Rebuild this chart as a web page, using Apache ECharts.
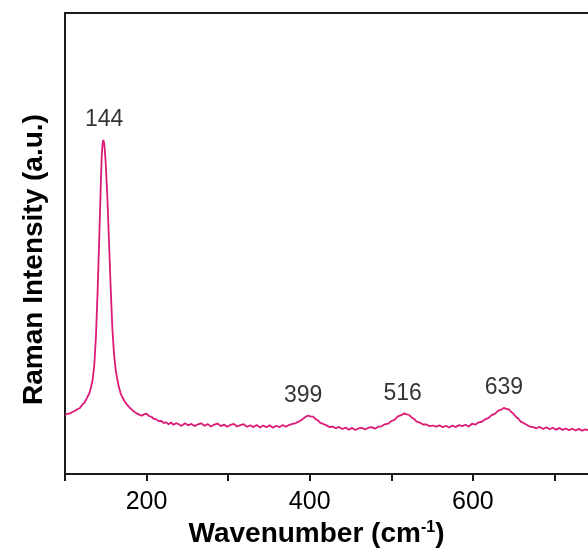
<!DOCTYPE html>
<html>
<head>
<meta charset="utf-8">
<script src="https://cdn.jsdelivr.net/npm/echarts@6/dist/echarts.min.js"></script>
<style>
  html, body { margin: 0; padding: 0; background: #fff; overflow: hidden; }
  /* the plot frame runs past the right edge of the picture, as in the original */
  #main { width: 639px; height: 553px; }
</style>
</head>
<body>
<div id="main"></div>
<script>
// Raman spectrum (wavenumber in cm-1, intensity in a.u.)
var wavenumbers = [
  100, 103, 106, 109, 112, 115, 118, 121, 124, 127, 130, 132, 134, 136, 138, 140, 142, 144, 145, 146,
  147, 148, 149, 150, 152, 154, 156, 158, 160, 162, 164, 166, 168, 170, 173, 176, 179, 182, 185, 188,
  191, 194, 197, 200, 203, 206, 209, 212, 215, 218, 221, 224, 227, 230, 233, 236, 239, 243, 247, 251,
  255, 259, 263, 267, 271, 275, 279, 283, 287, 291, 295, 299, 303, 307, 311, 315, 319, 323, 327, 331,
  335, 339, 343, 347, 351, 355, 359, 363, 367, 371, 375, 379, 383, 387, 391, 395, 398, 401, 404, 407,
  410, 413, 416, 420, 424, 428, 432, 436, 440, 444, 448, 452, 456, 460, 464, 468, 472, 476, 480, 484,
  488, 492, 496, 500, 504, 508, 512, 516, 519, 522, 525, 528, 531, 535, 539, 543, 547, 551, 555, 559,
  563, 567, 571, 575, 579, 583, 587, 591, 595, 599, 603, 607, 611, 615, 619, 623, 627, 631, 635, 638,
  641, 644, 647, 650, 653, 656, 659, 662, 666, 670, 674, 678, 682, 686, 690, 694, 698, 702, 706, 710,
  714, 718, 722, 726, 730, 734, 738, 742, 746, 750
];
var intensity = [
  600, 608, 612, 626, 636, 654, 664, 698, 722, 768, 818, 878, 958, 1110, 1400, 1850, 2380, 2950, 3200, 3330,
  3370, 3340, 3250, 3120, 2780, 2330, 1880, 1480, 1220, 1060, 960, 880, 820, 780, 735, 700, 672, 650, 628, 612,
  600, 588, 602, 610, 586, 578, 556, 552, 534, 536, 516, 522, 502, 520, 498, 514, 505, 486, 512, 492,
  506, 484, 502, 512, 488, 504, 480, 500, 510, 484, 499, 478, 497, 506, 480, 494, 503, 477, 493, 474,
  496, 470, 490, 472, 493, 468, 488, 474, 495, 478, 497, 506, 515, 532, 552, 578, 590, 582, 580, 556,
  542, 516, 508, 494, 474, 480, 462, 476, 455, 470, 448, 466, 444, 462, 466, 450, 468, 474, 458, 478,
  482, 502, 508, 534, 548, 582, 594, 612, 602, 596, 570, 556, 530, 520, 500, 500, 484, 490, 478, 492,
  472, 488, 470, 490, 474, 494, 484, 498, 480, 508, 498, 522, 528, 552, 564, 594, 608, 640, 650, 668,
  658, 654, 626, 608, 576, 558, 526, 516, 498, 478, 474, 462, 476, 455, 472, 452, 468, 448, 464, 446,
  460, 442, 458, 440, 456, 438, 452, 442, 448, 436
];

// peak labels and where they sit
var peakText = ['144', '399', '516', '639'];
var peakX = [148, 392, 514, 638];
var peakY = [3370, 590, 612, 668];

var spectrum = wavenumbers.map(function (w, i) { return [w, intensity[i]]; });
var peaks = peakX.map(function (x, i) {
    return { value: [x, peakY[i]], name: peakText[i] };
});

var myChart = echarts.init(document.getElementById('main'));
var axisColor = '#1a1a1a';
var font = 'Liberation Sans, Arial, sans-serif';

var option = {
    animation: false,
    grid: {
        left: 65,
        top: 13,
        bottom: 75,
        right: 0,
        show: true,
        borderColor: axisColor,
        borderWidth: 2
    },
    xAxis: {
        type: 'value',
        min: 100,
        max: 800,
        interval: 100,
        name: 'Wavenumber (cm{sup|-1})',
        nameLocation: 'middle',
        nameGap: 43,
        nameTextStyle: {
            fontFamily: font,
            fontSize: 28,
            fontWeight: 'bold',
            color: '#000',
            padding: [0, 68, 0, 0],
            rich: {
                sup: {
                    fontFamily: font,
                    fontSize: 16,
                    fontWeight: 'bold',
                    color: '#000',
                    verticalAlign: 'top',
                    padding: [0, 0, 12, 0]
                }
            }
        },
        axisLine: { lineStyle: { color: axisColor, width: 2 } },
        axisTick: { show: true, length: 7, inside: false, lineStyle: { color: axisColor, width: 2 } },
        axisLabel: {
            margin: 16,
            fontFamily: font,
            fontSize: 25,
            color: '#000',
            formatter: function (v) { return (v === 200 || v === 400 || v === 600) ? String(v) : ''; }
        },
        splitLine: { show: false }
    },
    yAxis: {
        type: 'value',
        min: 0,
        max: 4650,
        name: 'Raman Intensity (a.u.)',
        nameLocation: 'middle',
        nameRotate: 90,
        nameGap: 17,
        nameTextStyle: {
            fontFamily: font,
            fontSize: 28,
            fontWeight: 'bold',
            color: '#000',
            padding: [0, 32, 0, 0]
        },
        axisLine: { show: true, lineStyle: { color: axisColor, width: 2 } },
        axisTick: { show: false },
        axisLabel: { show: false },
        splitLine: { show: false }
    },
    series: [
        {
            type: 'line',
            data: spectrum,
            showSymbol: false,
            symbol: 'none',
            lineStyle: { color: '#dc1a78', width: 1.8 },
            z: 3
        },
        {
            type: 'scatter',
            data: peaks,
            symbolSize: 1,
            itemStyle: { color: 'transparent' },
            label: {
                show: true,
                position: 'top',
                distance: 8,
                fontFamily: font,
                fontSize: 23,
                color: '#000',
                formatter: '{b}'
            },
            emphasis: { disabled: true },
            z: 4
        }
    ]
};
myChart.setOption(option);
</script>
</body>
</html>
